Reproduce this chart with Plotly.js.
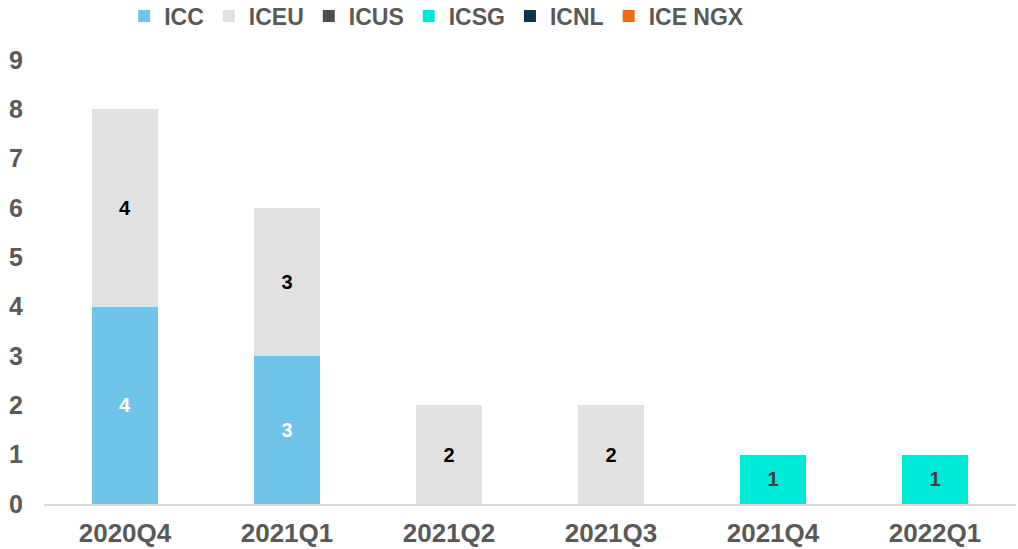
<!DOCTYPE html>
<html><head><meta charset="utf-8">
<script src="https://cdn.plot.ly/plotly-3.0.1.min.js"></script>
<style>html,body{margin:0;padding:0;background:#fff}#c{width:1018px;height:549px}</style>
</head><body><div id="c"></div>
<script>
const categories = ['2020Q4','2021Q1','2021Q2','2021Q3','2021Q4','2022Q1'];
const ICC   = [4, 3, 0, 0, 0, 0];
const ICEU  = [4, 3, 2, 2, 0, 0];
const ICUS  = [0, 0, 0, 0, 0, 0];
const ICSG  = [0, 0, 0, 0, 1, 1];
const ICNL  = [0, 0, 0, 0, 0, 0];
const ICENGX= [0, 0, 0, 0, 0, 0];
const yTicks = [0,1,2,3,4,5,6,7,8,9];

const series = [
  {name:'ICC', vals:ICC, color:'#6EC3E8', tc:'#FFFFFF'},
  {name:'ICEU', vals:ICEU, color:'#E1E1E1', tc:'#000000'},
  {name:'ICUS', vals:ICUS, color:'#4D4D4D', tc:'#FFFFFF'},
  {name:'ICSG', vals:ICSG, color:'#00EAD8', tc:'#404040'},
  {name:'ICNL', vals:ICNL, color:'#0F3349', tc:'#FFFFFF'},
  {name:'ICE NGX', vals:ICENGX, color:'#F26A0D', tc:'#FFFFFF'}
];

const font = 'Liberation Sans, Arial, sans-serif';
const traces = series.map(s => ({
  type:'bar', name:s.name, x:categories,
  y:s.vals.map(v => v === 0 ? null : v),
  text:s.vals.map(v => v === 0 ? '' : String(v)),
  textposition:'inside', insidetextanchor:'middle', textangle:0,
  textfont:{family:font, size:20, color:s.tc, weight:'bold'},
  marker:{color:s.color, line:{width:0}},
  hoverinfo:'x+y+name'
}));

Plotly.newPlot('c', traces, {
  width:1018, height:549, barmode:'stack', bargap:0.59,
  margin:{l:44, r:2, t:60, b:45, autoexpand:false},
  paper_bgcolor:'#fff', plot_bgcolor:'#fff',
  font:{family:font, color:'#595959'},
  showlegend:true,
  legend:{orientation:'h', x:0.404, xanchor:'center', y:1.099, yanchor:'middle',
          font:{family:font, size:23, color:'#595959', weight:'bold'}, traceorder:'normal',
          itemwidth:30, itemclick:false},
  xaxis:{type:'category', showgrid:false, showline:true, linecolor:'#D9D9D9', linewidth:2,
         ticks:'', tickfont:{family:font, size:26, color:'#595959', weight:'bold'},
         ticklabelstandoff:5, zeroline:false},
  yaxis:{range:[0,9], tickvals:yTicks, showgrid:false, zeroline:false, showline:false,
         ticks:'', tickfont:{family:font, size:25, color:'#595959', weight:'bold'},
         ticklabelstandoff:20}
}, {displayModeBar:false});
</script></body></html>
